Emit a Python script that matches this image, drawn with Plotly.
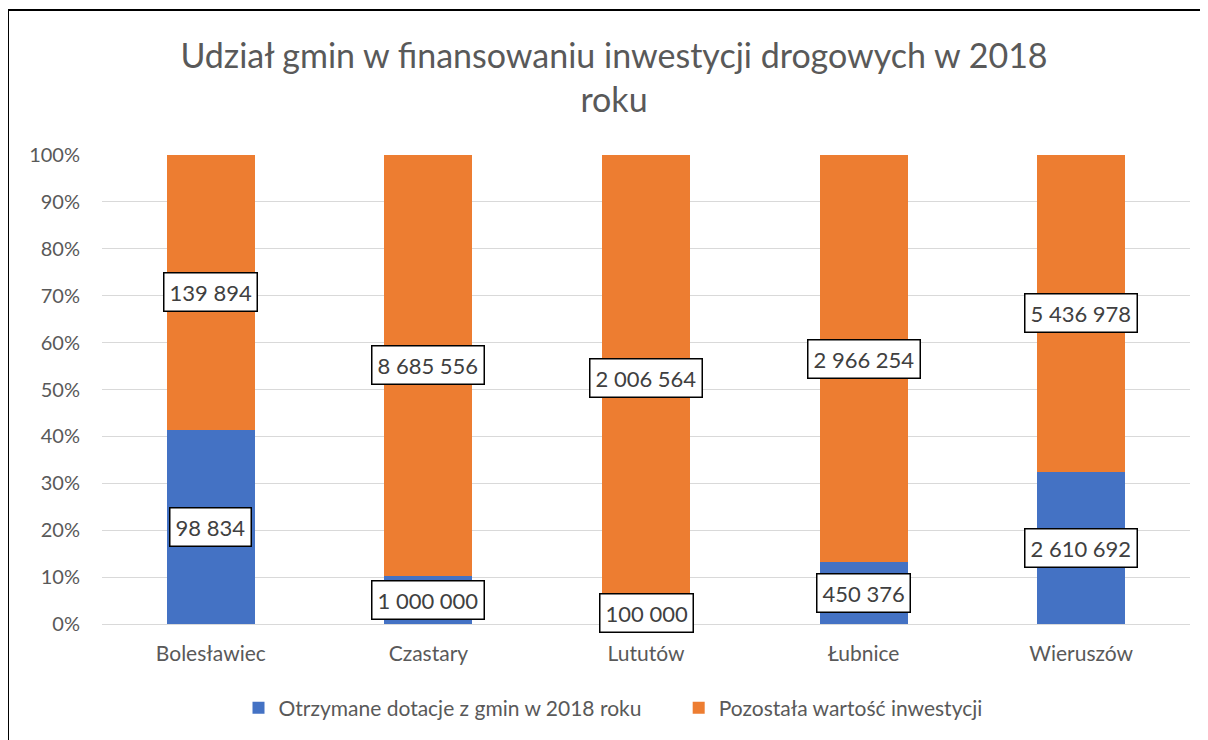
import numpy as np
import plotly.graph_objects as go

categories = ["Bolesławiec", "Czastary", "Lututów", "Łubnice", "Wieruszów"]
dotacje = [98834, 1000000, 100000, 450376, 2610692]
pozostala = [139894, 8685556, 2006564, 2966254, 5436978]
series_names = ["Otrzymane dotacje z gmin w 2018 roku", "Pozostała wartość inwestycji"]
y_ticks = [0, 10, 20, 30, 40, 50, 60, 70, 80, 90, 100]
y_tick_labels = [f"{t}%" for t in y_ticks]

OFF = 8  # page body margin offset
W, H = 1208 - OFF, 740 - OFF
# desired screen positions of the plot area
SL, SR, ST, SB = 102, 1190, 155, 624
L, T = SL - OFF, ST - OFF
R = W - (SR - OFF)
B = H - (SB - OFF)
PW, PH = SR - SL, SB - ST

d = np.array(dotacje, dtype=float)
p = np.array(pozostala, dtype=float)
tot = d + p
d_pct = d / tot * 100
p_pct = p / tot * 100

FONT = "Lato"
BLUE = "#4472C4"
ORANGE = "#ED7D31"

fig = go.Figure()
fig.add_trace(go.Bar(x=categories, y=d_pct, name=series_names[0] + "\u00a0" * 6,
                     marker=dict(color=BLUE, line=dict(width=0))))
fig.add_trace(go.Bar(x=categories, y=p_pct, name=series_names[1],
                     marker=dict(color=ORANGE, line=dict(width=0))))

def fmt(v):
    return f"{int(v):,}".replace(",", " ")

annotations = []
for i, c in enumerate(categories):
    for val, ymid in [(dotacje[i], d_pct[i] / 2), (pozostala[i], d_pct[i] + p_pct[i] / 2)]:
        annotations.append(dict(
            x=c, y=ymid, xref="x", yref="y", text=fmt(val), showarrow=False,
            font=dict(family=FONT, size=22, color="#404040"),
            bgcolor="white", bordercolor="black", borderwidth=1.5, borderpad=5,
            xanchor="center", yanchor="middle",
        ))

def px_x(xs):
    return (xs - SL) / PW

def px_y(ys):
    return (SB - ys) / PH

shapes = [dict(type="rect", xref="paper", yref="paper",
               x0=px_x(8), x1=px_x(1240), y0=px_y(780), y1=px_y(10),
               line=dict(color="black", width=2), fillcolor="rgba(0,0,0,0)", layer="above")]

fig.update_layout(
    width=W, height=H,
    margin=dict(l=L, r=R, t=T, b=B),
    paper_bgcolor="white", plot_bgcolor="white",
    barmode="stack", bargap=0.595,
    title=dict(text="Udział gmin w finansowaniu inwestycji drogowych w 2018<br>roku",
               font=dict(family=FONT, size=34, color="#595959"),
               x=(614 - OFF) / W, xanchor="center", xref="container",
               y=1 - (68 - OFF) / H, yanchor="middle", yref="container"),
    font=dict(family=FONT, color="#595959"),
    xaxis=dict(showgrid=False, showline=False, ticks="", ticklabelstandoff=15,
               tickfont=dict(size=21, color="#595959"), zeroline=False),
    yaxis=dict(range=[0, 100], tickvals=y_ticks, ticktext=y_tick_labels, showgrid=True,
               gridcolor="#D9D9D9", gridwidth=1, zeroline=True, zerolinecolor="#D9D9D9",
               zerolinewidth=1, ticks="", ticklabelstandoff=21,
               tickfont=dict(size=20, color="#595959")),
    legend=dict(orientation="h", x=px_x(613), xanchor="center", y=px_y(708), yanchor="middle",
                font=dict(family=FONT, size=21, color="#595959"), traceorder="normal",
                itemwidth=30),
    showlegend=True,
    annotations=annotations,
    shapes=shapes,
)

fig.write_html("out.html")
